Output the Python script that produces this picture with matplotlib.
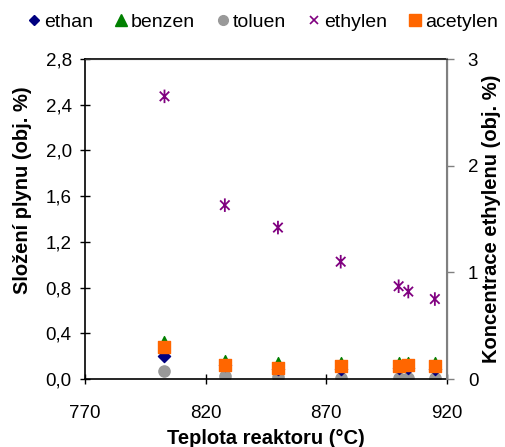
import matplotlib
matplotlib.use("Agg")
import matplotlib.pyplot as plt
from matplotlib.path import Path
from matplotlib.lines import Line2D

plt.rcParams['font.family'] = ['Liberation Sans', 'DejaVu Sans']

# Reactor temperature (°C)
teplota = [803, 828, 850, 876, 900, 904, 915]

# Gas composition (vol. %), left axis
ethan = [0.20, 0.12, 0.09, 0.09, 0.10, 0.10, 0.09]
benzen = [0.33, 0.17, 0.15, 0.15, 0.15, 0.15, 0.15]
toluen = [0.07, 0.03, 0.02, 0.01, 0.01, 0.01, 0.01]
acetylen = [0.28, 0.12, 0.10, 0.11, 0.11, 0.12, 0.11]

# Ethylene concentration (vol. %), right axis
ethylen = [2.65, 1.63, 1.42, 1.10, 0.87, 0.82, 0.75]

x_ticks = [770, 820, 870, 920]
y_left_ticks = [0.0, 0.4, 0.8, 1.2, 1.6, 2.0, 2.4, 2.8]
y_right_ticks = [0, 1, 2, 3]

# Star marker: X with vertical bar
star = Path(
    [(-0.7, -0.7), (0.7, 0.7), (-0.7, 0.7), (0.7, -0.7), (0, -1), (0, 1)],
    [Path.MOVETO, Path.LINETO, Path.MOVETO, Path.LINETO, Path.MOVETO, Path.LINETO],
)

fig = plt.figure(figsize=(5.05, 4.47), dpi=100)
ax = fig.add_axes([0.168, 0.152, 0.717, 0.716])
ax2 = ax.twinx()

ax.scatter(teplota, ethan, marker='D', s=38, color='#000080', zorder=3)
ax.scatter(teplota, benzen, marker='^', s=50, color='#008000', zorder=3)
ax.scatter(teplota, toluen, marker='o', s=65, color='#999999', zorder=2)
ax.scatter(teplota, acetylen, marker='s', s=70, color='#FF6600', zorder=4)
ax2.scatter(teplota, ethylen, marker=star, s=95, facecolor='none',
            edgecolor='#800080', linewidths=1.3)

ax.set_xlim(770, 920)
ax.set_ylim(0, 2.8)
ax2.set_ylim(0, 3)
ax.set_xticks(x_ticks)
ax.set_yticks(y_left_ticks)
ax.set_yticklabels([f"{v:.1f}".replace('.', ',') for v in y_left_ticks])
ax2.set_yticks(y_right_ticks)

ax.tick_params(axis='both', direction='inout', length=7, width=1,
               labelsize=13.5, colors='black')
ax.tick_params(axis='x', pad=15)
ax.tick_params(axis='y', pad=6)
ax2.tick_params(axis='y', direction='out', length=5, width=1,
                labelsize=13.5, color='#808080', labelcolor='black', pad=10)

for s in ['left', 'bottom', 'top']:
    ax.spines[s].set_color('black')
    ax.spines[s].set_linewidth(1.2)
ax2.spines['right'].set_color('#808080')
ax2.spines['right'].set_linewidth(1.5)
ax2.spines['top'].set_color('#333333')
ax2.spines['left'].set_visible(False)
ax2.spines['bottom'].set_visible(False)

ax.set_xlabel('Teplota reaktoru (°C)', fontsize=14.5, fontweight='bold', labelpad=5)
ax.set_ylabel('Složení plynu (obj. %)', fontsize=14.5, fontweight='bold')
ax.yaxis.set_label_coords(-0.146, 0.59)
ax2.set_ylabel('Koncentrace ethylenu (obj. %)', fontsize=14.5, fontweight='bold', labelpad=3)

handles = [
    Line2D([], [], ls='none', marker='D', ms=5, color='#000080'),
    Line2D([], [], ls='none', marker='^', ms=9, color='#008000'),
    Line2D([], [], ls='none', marker='o', ms=7, color='#999999'),
    Line2D([], [], ls='none', marker='x', ms=6, mew=1.2, color='#800080'),
    Line2D([], [], ls='none', marker='s', ms=8, color='#FF6600'),
]
labels = ['ethan', 'benzen', 'toluen', 'ethylen', 'acetylen']
fig.legend(handles, labels, loc='center', bbox_to_anchor=(0.52, 0.951), ncol=5,
           frameon=False, fontsize=14, handlelength=0.7, handletextpad=0.15,
           columnspacing=1.1, borderaxespad=0)

fig.savefig('out.png', dpi=100)
